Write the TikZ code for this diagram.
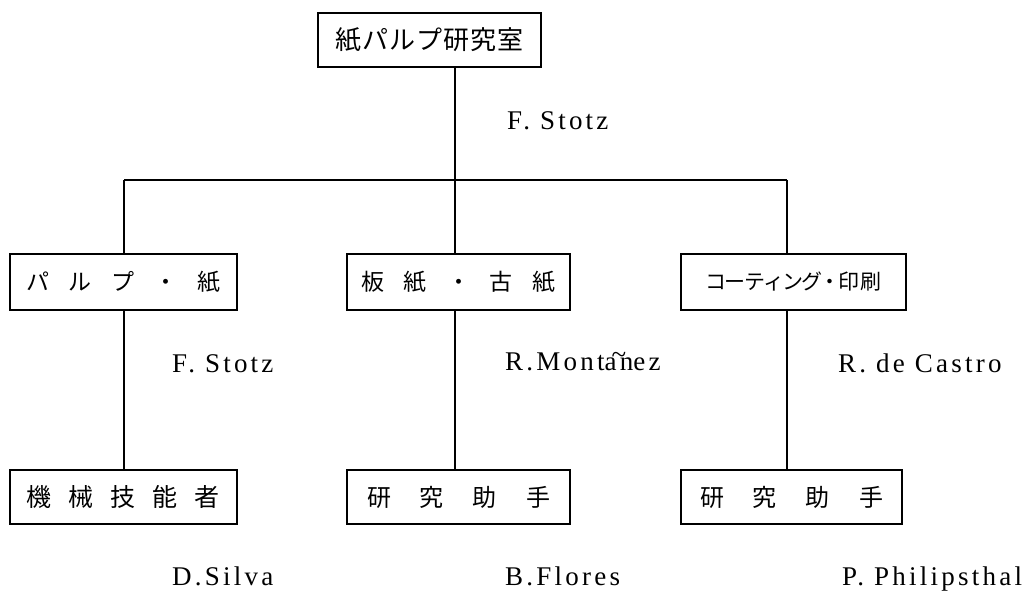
\documentclass[tikz,border=0pt]{standalone}
\usepackage{fontspec}
\setmainfont{Liberation Serif}
\newfontfamily\jp{Noto Sans CJK JP}
\newfontfamily\lat[LetterSpace=12]{Liberation Serif}
\begin{document}
\begin{tikzpicture}[x=1pt,y=-1pt,
  box/.style={draw,line width=1.5pt,inner sep=0pt,font=\jp\fontsize{23}{23}\selectfont},
  conn/.style={line width=1.6pt},
  person/.style={anchor=base west,inner sep=0pt,font=\lat\fontsize{27}{27}\selectfont}]
\useasboundingbox[fill=white] (0,0) rectangle (1034,591);
\node[box,minimum width=223pt,minimum height=54pt,font=\jp\fontsize{26}{26}\selectfont] (top) at (429.5,40) {紙\hspace{1pt}パ\hspace{1pt}ル\hspace{1pt}プ\hspace{1pt}研\hspace{1pt}究\hspace{1pt}室};
\coordinate (hub) at (455,180);
\coordinate (hl) at (124,180);
\coordinate (hr) at (787,180);
\node[box,minimum width=227pt,minimum height=56pt] (m1) at (123.5,282) {パ\hspace{20pt}ル\hspace{20pt}プ\hspace{20pt}・\hspace{20pt}紙};
\node[box,minimum width=223pt,minimum height=56pt] (m2) at (458.5,282) {板\hspace{20pt}紙\hspace{20pt}・\hspace{20pt}古\hspace{20pt}紙};
\node[box,minimum width=225pt,minimum height=56pt,font=\jp\fontsize{21}{21}\selectfont] (m3) at (793.5,282) {コ\hspace{-2pt}ー\hspace{-1pt}テ\hspace{-2pt}ィ\hspace{-2pt}ン\hspace{-2pt}グ\hspace{-3pt}・\hspace{-2pt}印\hspace{1pt}刷};
\node[box,minimum width=227pt,minimum height=54pt,font=\jp\fontsize{25}{25}\selectfont] (b1) at (123.5,497) {機\hspace{17pt}械\hspace{17pt}技\hspace{17pt}能\hspace{17pt}者};
\node[box,minimum width=223pt,minimum height=54pt,font=\jp\fontsize{24}{24}\selectfont] (b2) at (458.5,497) {研\hspace{29pt}究\hspace{29pt}助\hspace{29pt}手};
\node[box,minimum width=221pt,minimum height=54pt,font=\jp\fontsize{24}{24}\selectfont] (b3) at (791.5,497) {研\hspace{29pt}究\hspace{29pt}助\hspace{29pt}手};
\draw[conn] (top.south -| hub) -- (hub);
\draw[conn] (hl) -- (hr);
\draw[conn] (hl) -- (m1.north -| hl);
\draw[conn] (hub) -- (m2.north -| hub);
\draw[conn] (hr) -- (m3.north -| hr);
\draw[conn] (m1.south -| hl) -- (b1.north -| hl);
\draw[conn] (m2.south -| hub) -- (b2.north -| hub);
\draw[conn] (m3.south -| hr) -- (b3.north -| hr);
\node[person] (n0) at (507,130) {F. Stotz};
\node[person] (n1) at (172,372) {F. Stotz};
\node[person] (n2) at (505,370) {R.Mont{\ooalign{an\cr\hidewidth\raisebox{0.55ex}{\~{}}\hidewidth\cr}}ez};
\node[person] (n3) at (838,372) {R. de Castro};
\node[person] (n4) at (172,585) {D.Silva};
\node[person] (n5) at (505,585) {B.Flores};
\node[person] (n6) at (842,585) {P. Philipsthal};
\end{tikzpicture}
\end{document}
